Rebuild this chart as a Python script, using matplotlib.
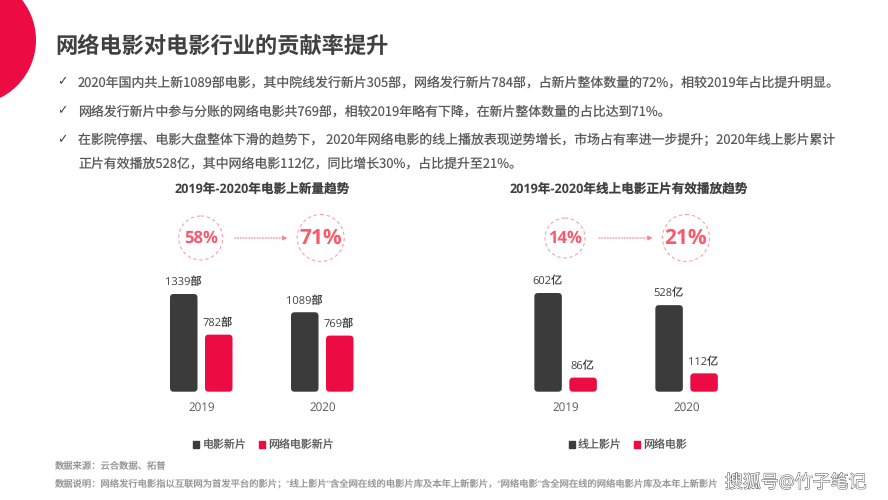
import matplotlib
matplotlib.use("Agg")
import matplotlib.pyplot as plt
import matplotlib.patheffects as pe
from matplotlib.patches import Circle, FancyBboxPatch, Patch

plt.rcParams["font.family"] = ["Open Sans", "Noto Sans CJK SC", "DejaVu Sans"]
plt.rcParams["text.hinting"] = "no_hinting"
BODY_FONT = ["Noto Sans CJK SC", "DejaVu Sans"]

W, H = 888, 500
DARK = "#3b3b3b"
RED = "#ec0b43"
PINK = "#fb5a6c"
GRAY = "#595959"

years = ["2019", "2020"]

new_total = [1339, 1089]
new_web = [782, 769]
new_share = ["58%", "71%"]
new_title = "2019年-2020年电影上新量趋势"
new_legend = ["电影新片", "网络电影新片"]

play_total = [602, 528]
play_web = [86, 112]
play_share = ["14%", "21%"]
play_title = "2019年-2020年线上电影正片有效播放趋势"
play_legend = ["线上影片", "网络电影"]

title = "网络电影对电影行业的贡献率提升"
bullets = [
    "2020年国内共上新1089部电影，其中院线发行新片305部，网络发行新片784部，占新片整体数量的72%，相较2019年占比提升明显。",
    "网络发行新片中参与分账的网络电影共769部，相较2019年略有下降，在新片整体数量的占比达到71%。",
    "在影院停摆、电影大盘整体下滑的趋势下， 2020年网络电影的线上播放表现逆势增长，市场占有率进一步提升；2020年线上影片累计",
    "正片有效播放528亿，其中网络电影112亿，同比增长30%，占比提升至21%。",
]
bullet_y = [83, 112, 140.5, 164]
source = "数据来源：云合数据、拓普"
note = "数据说明：网络发行电影指以互联网为首发平台的影片；“线上影片”含全网在线的电影片库及本年上新影片，“网络电影”含全网在线的网络电影片库及本年上新影片"
watermark = "搜狐号@竹子笔记"

fig = plt.figure(figsize=(W / 100, H / 100), dpi=100, facecolor="white")

# page layer in pixel coords
page = fig.add_axes([0, 0, 1, 1])
page.set_xlim(0, W)
page.set_ylim(H, 0)
page.axis("off")
page.set_aspect("equal")

page.add_patch(Circle((-28.7, 40), 64.7, color=RED, lw=0))
page.text(55, 47, title, fontsize=16, fontweight="bold", color="#404040", va="center")

for i, (line, y) in enumerate(zip(bullets, bullet_y)):
    page.text(78, y, line, fontsize=9.3, color=GRAY, va="center", family=BODY_FONT)
    if i < 3:
        page.text(57, y - 2, "✓", fontsize=9, color="#404040", va="center",
                  family="DejaVu Sans")

page.text(55, 467, source, fontsize=6.7, color="#969696", va="center")
page.text(55, 484, note, fontsize=6.7, color="#969696", va="center")
page.text(725, 483, watermark, fontsize=12.9, color="white", va="center",
          path_effects=[pe.withStroke(linewidth=0.7, foreground="#555555")])


def draw_bubbles(labels, xs, radii):
    for label, x, r, size in zip(labels, xs, radii, [12, 15]):
        page.add_patch(Circle((x, 238), r, fill=False, ec="#f9a0aa", lw=0.8, ls=(0, (3, 2.5))))
        page.text(x, 238.5, label, fontsize=size, fontweight="bold", color=PINK,
                  ha="center", va="center")
    page.annotate("", xy=(xs[1] - 33, 238), xytext=(xs[0] + 34, 238),
                  arrowprops=dict(arrowstyle="-|>", color="#f9808e", lw=0.8,
                                  ls=(0, (1, 1.5)), mutation_scale=7,
                                  shrinkA=0, shrinkB=0))


def rounded_bar(ax, x, value, width, color, aspect):
    ax.add_patch(FancyBboxPatch((x, 0), width, value, boxstyle="round,pad=0,rounding_size=0.03",
                                mutation_aspect=aspect, fc=color, ec="none"))


def bar_chart(center_px, total, web, unit, scale, chart_title, title_x, legend_names, legend_x):
    """Grouped bars, center_px = pixel x of the first group, scale = px per value unit."""
    spacing = 121.0
    left, right = center_px - 50, center_px + 170
    top, bottom = 255.0, 391.7
    ax = fig.add_axes([left / W, 1 - bottom / H, (right - left) / W, (bottom - top) / H])
    ax.set_xlim((left - center_px) / spacing, (right - center_px) / spacing)
    ax.set_ylim(0, (bottom - top) / scale)
    ax.patch.set_alpha(0)
    for side in ax.spines.values():
        side.set_visible(False)
    ax.set_yticks([])
    ax.set_xticks(range(len(years)), years, fontsize=8.4, color=GRAY)
    ax.tick_params(axis="x", length=0, pad=7.5)

    bar_w = 27.5 / spacing
    gap = 7.5 / spacing
    aspect = (1 / scale) / (1 / spacing)
    for i in range(len(years)):
        x_a = i - gap / 2 - bar_w
        x_b = i + gap / 2
        rounded_bar(ax, x_a, total[i], bar_w, DARK, aspect)
        rounded_bar(ax, x_b, web[i], bar_w, RED, aspect)
        for x, v in ((x_a, total[i]), (x_b, web[i])):
            ax.annotate(f"{v}{unit}", (x + bar_w / 2, v), xytext=(-0.5, 8.2),
                        textcoords="offset points", ha="center", va="center",
                        fontsize=8, color="#404040")

    page.text(title_x, 189.5, chart_title, fontsize=9.1, fontweight="bold", color="#404040",
              ha="center", va="center")
    fig.legend(handles=[Patch(color=DARK), Patch(color=RED)], labels=legend_names,
               loc="center", bbox_to_anchor=(legend_x / W, 1 - 445.5 / H), ncols=2, frameon=False,
               fontsize=7.9, labelcolor=GRAY, handlelength=0.55, handleheight=0.55,
               handletextpad=0.3, columnspacing=1.15, borderpad=0)


bar_chart(201.25, new_total, new_web, "部", 97.7 / 1339, new_title, 262, new_legend, 263.5)
bar_chart(565.6, play_total, play_web, "亿", 98.7 / 602, play_title, 629, play_legend, 628)
draw_bubbles(new_share, [200.7, 320.7], [22, 23.5])
draw_bubbles(play_share, [565, 686], [20, 23.5])

fig.savefig("out.png", dpi=100)
